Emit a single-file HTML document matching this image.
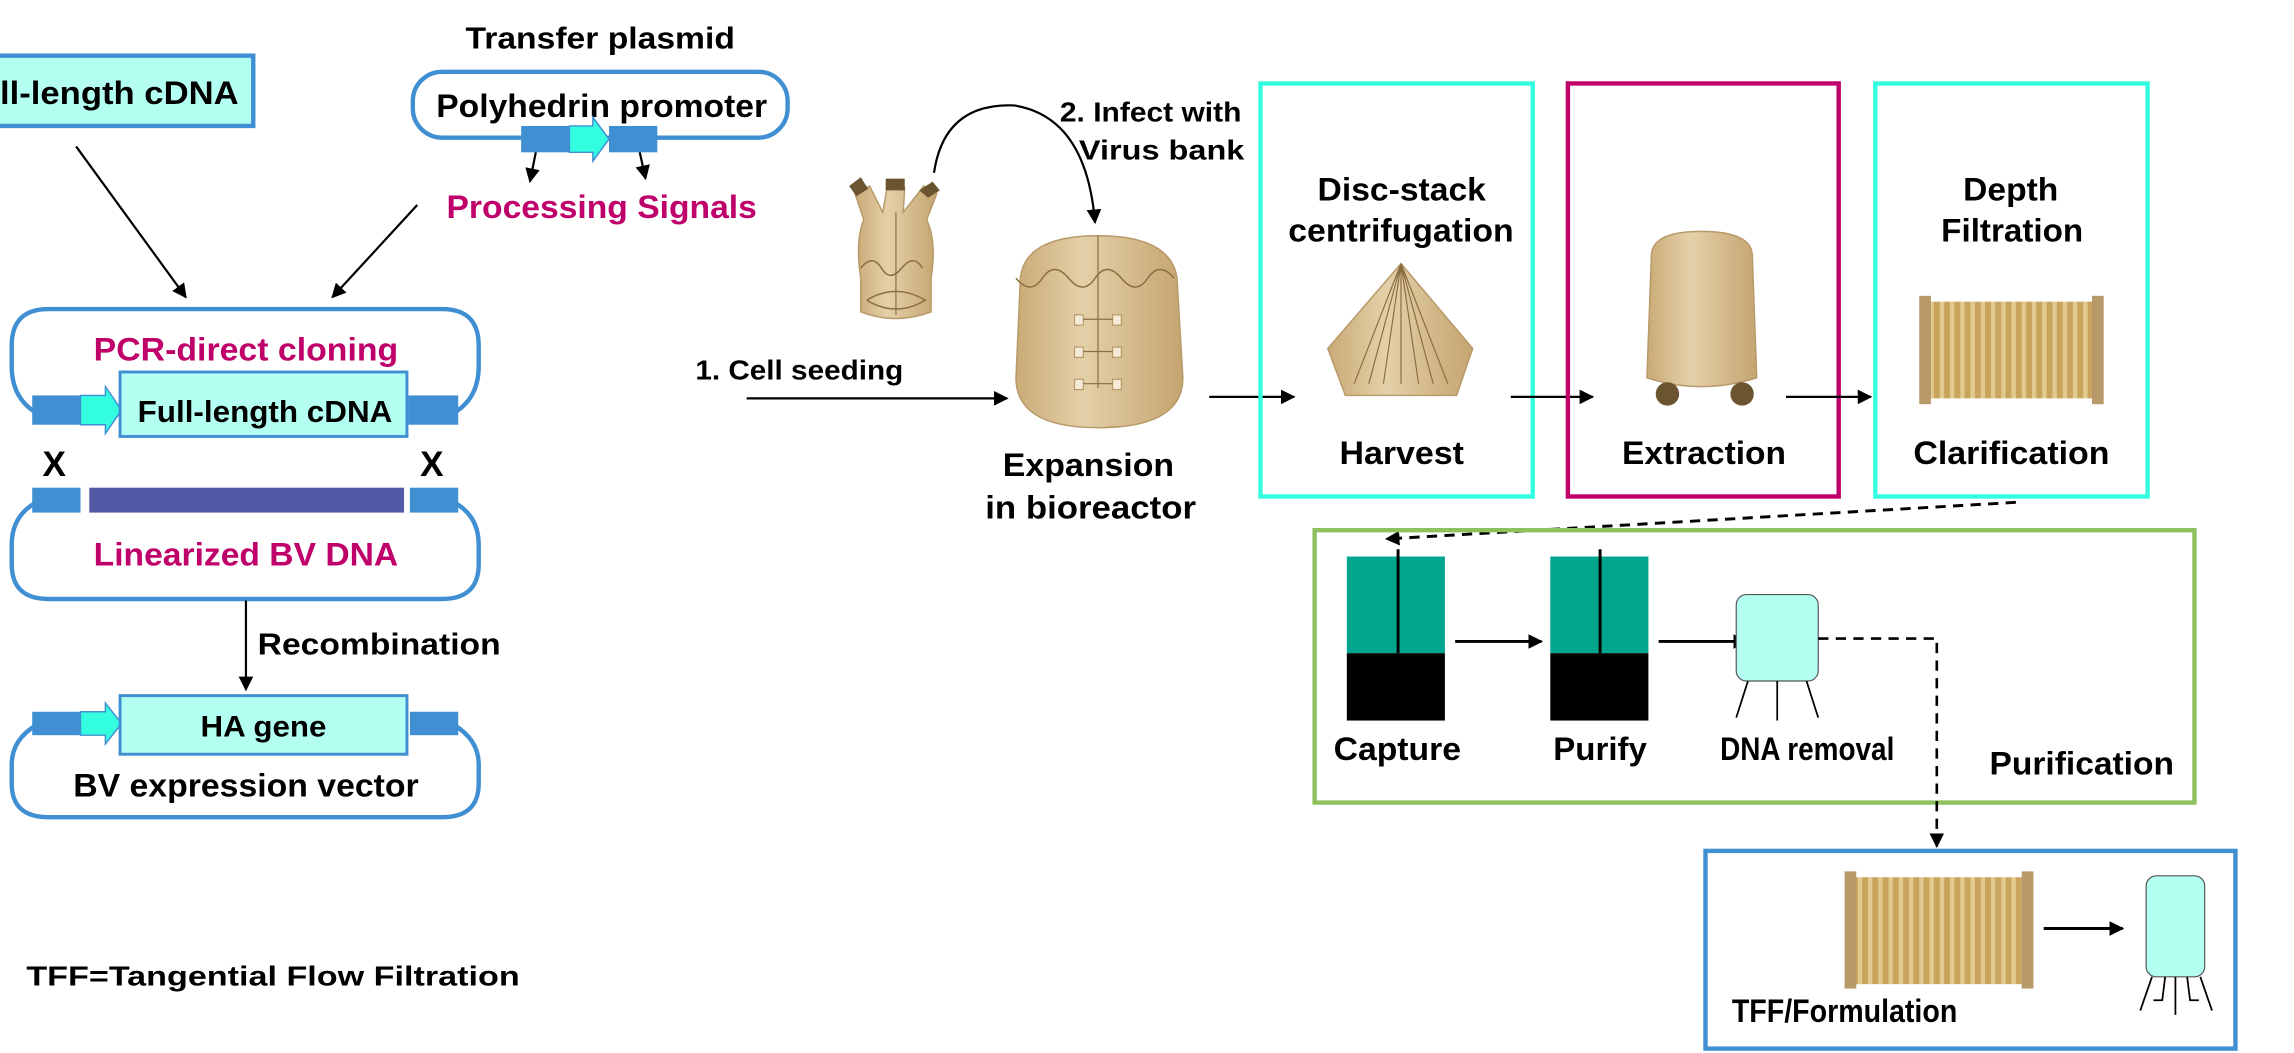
<!DOCTYPE html>
<html><head><meta charset="utf-8"><style>
html,body{margin:0;padding:0;background:#fff;overflow:hidden}
svg{display:block}
text{font-family:"Liberation Sans Narrow","Liberation Sans",sans-serif;font-weight:bold;fill:#000}
.m{fill:#c0006a}
</style></head><body>
<svg width="2294" height="1053" viewBox="0 0 1567 719" preserveAspectRatio="none" xmlns="http://www.w3.org/2000/svg">
<defs>
<marker id="ah" markerWidth="10" markerHeight="10" refX="9" refY="5" orient="auto" markerUnits="userSpaceOnUse"><path d="M0,0 L10,5 L0,10 z" fill="#000"/></marker>
<linearGradient id="tan" x1="0" x2="1"><stop offset="0" stop-color="#c9ab76"/><stop offset="0.4" stop-color="#e4d0a8"/><stop offset="1" stop-color="#c4a570"/></linearGradient>
<pattern id="ribs" width="7" height="10" patternUnits="userSpaceOnUse"><rect width="7" height="10" fill="#c9a45c"/><rect x="2" width="3" height="10" fill="#e2c98f"/></pattern>
</defs>
<rect width="1567" height="719" fill="#fff"/>

<!-- Left panel -->
<rect x="-5" y="38" width="178" height="48" fill="#b3fff2" stroke="#3f8fd2" stroke-width="3"/>
<text x="0" y="71" font-size="22" textLength="163" lengthAdjust="spacingAndGlyphs">ll-length cDNA</text>
<text x="318" y="33" font-size="21" textLength="184" lengthAdjust="spacingAndGlyphs">Transfer plasmid</text>
<rect x="282" y="49" width="256" height="45" rx="20" fill="#fff" stroke="#3f8fd2" stroke-width="3"/>
<text x="298" y="80" font-size="22" textLength="226" lengthAdjust="spacingAndGlyphs">Polyhedrin promoter</text>
<rect x="356" y="86" width="33" height="18" fill="#3f8fd2"/>
<path d="M389,86 L405,86 L405,80 L416,95 L405,110 L405,104 L389,104 z" fill="#33ffe0" stroke="#3f8fd2" stroke-width="1"/>
<rect x="416" y="86" width="33" height="18" fill="#3f8fd2"/>
<line x1="366" y1="104" x2="362" y2="124" stroke="#000" stroke-width="1.5" marker-end="url(#ah)"/>
<line x1="437" y1="104" x2="441" y2="122" stroke="#000" stroke-width="1.5" marker-end="url(#ah)"/>
<text class="m" x="305" y="149" font-size="22" textLength="212" lengthAdjust="spacingAndGlyphs">Processing Signals</text>
<line x1="52" y1="100" x2="127" y2="203" stroke="#000" stroke-width="1.5" marker-end="url(#ah)"/>
<line x1="285" y1="140" x2="227" y2="203" stroke="#000" stroke-width="1.5" marker-end="url(#ah)"/>

<path d="M25,282 Q8,272 8,250 L8,236 Q8,211 33,211 L302,211 Q327,211 327,236 L327,250 Q327,272 310,282" fill="none" stroke="#3f8fd2" stroke-width="3"/>
<text class="m" x="64" y="246" font-size="22" textLength="208" lengthAdjust="spacingAndGlyphs">PCR-direct cloning</text>
<rect x="22" y="270" width="33" height="20" fill="#3f8fd2"/>
<path d="M55,270 L72,270 L72,264 L83,280 L72,296 L72,290 L55,290 z" fill="#33ffe0" stroke="#3f8fd2" stroke-width="1"/>
<rect x="82" y="254" width="196" height="44" fill="#b3fff2" stroke="#3f8fd2" stroke-width="2"/>
<rect x="279" y="270" width="34" height="20" fill="#3f8fd2"/>
<text x="94" y="288" font-size="21" textLength="174" lengthAdjust="spacingAndGlyphs">Full-length cDNA</text>
<text x="29" y="325" font-size="24">X</text>
<text x="287" y="325" font-size="24">X</text>

<path d="M25,343 Q8,352 8,372 L8,385 Q8,409 33,409 L302,409 Q327,409 327,385 L327,372 Q327,352 310,343" fill="none" stroke="#3f8fd2" stroke-width="3"/>
<rect x="22" y="333" width="33" height="17" fill="#3f8fd2"/>
<rect x="61" y="333" width="215" height="17" fill="#5459a5"/>
<rect x="280" y="333" width="33" height="17" fill="#3f8fd2"/>
<text class="m" x="64" y="386" font-size="22" textLength="208" lengthAdjust="spacingAndGlyphs">Linearized BV DNA</text>
<line x1="168" y1="410" x2="168" y2="471" stroke="#000" stroke-width="1.5" marker-end="url(#ah)"/>
<text x="176" y="447" font-size="21" textLength="166" lengthAdjust="spacingAndGlyphs">Recombination</text>

<path d="M25,495 Q8,505 8,522 L8,535 Q8,558 33,558 L302,558 Q327,558 327,535 L327,522 Q327,505 310,495" fill="none" stroke="#3f8fd2" stroke-width="3"/>
<rect x="22" y="486" width="33" height="16" fill="#3f8fd2"/>
<path d="M55,486 L72,486 L72,480 L83,494 L72,508 L72,502 L55,502 z" fill="#33ffe0" stroke="#3f8fd2" stroke-width="1"/>
<rect x="82" y="475" width="196" height="40" fill="#b3fff2" stroke="#3f8fd2" stroke-width="2"/>
<rect x="280" y="486" width="33" height="16" fill="#3f8fd2"/>
<text x="137" y="503" font-size="20" textLength="86" lengthAdjust="spacingAndGlyphs">HA gene</text>
<text x="50" y="544" font-size="22" textLength="236" lengthAdjust="spacingAndGlyphs">BV expression vector</text>
<text x="18" y="673" font-size="19" textLength="337" lengthAdjust="spacingAndGlyphs">TFF=Tangential Flow Filtration</text>

<!-- Upstream -->
<path d="M588,190 Q584,165 590,150 L584,132 L594,127 L603,145 L606,128 L618,128 L617,145 L631,127 L640,132 L633,150 Q640,165 636,190 L636,213 Q612,222 588,213 z" fill="url(#tan)" stroke="#b8996a"/>
<rect x="605" y="122" width="13" height="8" fill="#6b5530"/>
<path d="M580,127 l8,-6 5,8 -8,5z M628,130 l9,-6 5,6 -8,5z" fill="#6b5530"/>
<path d="M588,183 q8,-10 14,0 t14,0 t14,0" fill="none" stroke="#8a6d40"/>
<line x1="612" y1="145" x2="612" y2="215" stroke="#8a6d40" stroke-width="0.8"/>
<path d="M592,205 q20,-12 40,0 q-20,12 -40,0" fill="none" stroke="#8a6d40"/>
<path d="M638,118 Q645,70 693,72 Q742,80 748,152" fill="none" stroke="#000" stroke-width="1.5" marker-end="url(#ah)"/>
<text x="724" y="83" font-size="19" textLength="124" lengthAdjust="spacingAndGlyphs">2. Infect with</text>
<text x="737" y="109" font-size="19" textLength="113" lengthAdjust="spacingAndGlyphs">Virus bank</text>
<path d="M697,190 Q700,161 750,161 Q800,161 804,190 L808,258 Q808,292 750,292 Q694,292 694,258 z" fill="url(#tan)" stroke="#b8996a"/>
<path d="M694,190 q10,12 18,0 t18,0 t18,0 t18,0 t18,0 t18,0" fill="none" stroke="#8a6d40"/>
<line x1="750" y1="161" x2="750" y2="265" stroke="#8a6d40" stroke-width="0.8"/>
<g fill="#f4ecd8" stroke="#b8996a" stroke-width="0.8"><rect x="734" y="215" width="6" height="7"/><rect x="760" y="215" width="6" height="7"/><rect x="734" y="237" width="6" height="7"/><rect x="760" y="237" width="6" height="7"/><rect x="734" y="259" width="6" height="7"/><rect x="760" y="259" width="6" height="7"/></g>
<g stroke="#8a6d40" stroke-width="0.8"><line x1="740" y1="218" x2="760" y2="218"/><line x1="740" y1="240" x2="760" y2="240"/><line x1="740" y1="262" x2="760" y2="262"/></g>
<text x="475" y="259" font-size="19" textLength="142" lengthAdjust="spacingAndGlyphs">1. Cell seeding</text>
<line x1="510" y1="272" x2="688" y2="272" stroke="#000" stroke-width="1.5" marker-end="url(#ah)"/>
<text x="685" y="325" font-size="22" textLength="117" lengthAdjust="spacingAndGlyphs">Expansion</text>
<text x="673" y="354" font-size="22" textLength="144" lengthAdjust="spacingAndGlyphs">in bioreactor</text>
<line x1="826" y1="271" x2="884" y2="271" stroke="#000" stroke-width="1.5" marker-end="url(#ah)"/>

<rect x="861" y="57" width="186" height="282" fill="none" stroke="#33ffe0" stroke-width="3"/>
<text x="900" y="137" font-size="22" textLength="115" lengthAdjust="spacingAndGlyphs">Disc-stack</text>
<text x="880" y="165" font-size="22" textLength="154" lengthAdjust="spacingAndGlyphs">centrifugation</text>
<path d="M957,180 L1006,238 L995,270 L919,270 L907,238 z" fill="url(#tan)" stroke="#b8996a"/>
<g stroke="#8a6d40" stroke-width="0.8" fill="none"><path d="M957,180 L925,262 M957,180 L935,262 M957,180 L945,262 M957,180 L969,262 M957,180 L979,262 M957,180 L989,262 M957,180 L957,262"/></g>
<text x="915" y="317" font-size="22" textLength="85" lengthAdjust="spacingAndGlyphs">Harvest</text>
<line x1="1032" y1="271" x2="1088" y2="271" stroke="#000" stroke-width="1.5" marker-end="url(#ah)"/>

<rect x="1071" y="57" width="185" height="282" fill="none" stroke="#c0006a" stroke-width="3"/>
<path d="M1128,175 Q1128,158 1162,158 Q1197,158 1197,175 L1200,258 Q1162,270 1125,258 z" fill="url(#tan)" stroke="#b8996a"/>
<circle cx="1139" cy="269" r="8" fill="#6b5530"/><circle cx="1190" cy="269" r="8" fill="#6b5530"/>
<text x="1108" y="317" font-size="22" textLength="112" lengthAdjust="spacingAndGlyphs">Extraction</text>
<line x1="1220" y1="271" x2="1278" y2="271" stroke="#000" stroke-width="1.5" marker-end="url(#ah)"/>

<rect x="1281" y="57" width="186" height="282" fill="none" stroke="#33ffe0" stroke-width="3"/>
<text x="1341" y="137" font-size="22" textLength="65" lengthAdjust="spacingAndGlyphs">Depth</text>
<text x="1326" y="165" font-size="22" textLength="97" lengthAdjust="spacingAndGlyphs">Filtration</text>
<rect x="1318" y="206" width="112" height="66" fill="url(#ribs)"/>
<rect x="1311" y="202" width="8" height="74" fill="#b8996a"/><rect x="1429" y="202" width="8" height="74" fill="#b8996a"/>
<text x="1307" y="317" font-size="22" textLength="134" lengthAdjust="spacingAndGlyphs">Clarification</text>

<line x1="1377" y1="343" x2="947" y2="368" stroke="#000" stroke-width="2" stroke-dasharray="7,5" marker-end="url(#ah)"/>

<!-- Purification -->
<rect x="898" y="362" width="601" height="186" fill="none" stroke="#8fc060" stroke-width="3"/>
<rect x="920" y="380" width="67" height="66" fill="#00a58e"/><rect x="920" y="446" width="67" height="46" fill="#000"/>
<line x1="955" y1="375" x2="955" y2="446" stroke="#000" stroke-width="2"/>
<line x1="994" y1="438" x2="1053" y2="438" stroke="#000" stroke-width="2" marker-end="url(#ah)"/>
<rect x="1059" y="380" width="67" height="66" fill="#00a58e"/><rect x="1059" y="446" width="67" height="46" fill="#000"/>
<line x1="1093" y1="375" x2="1093" y2="446" stroke="#000" stroke-width="2"/>
<line x1="1133" y1="438" x2="1193" y2="438" stroke="#000" stroke-width="2" marker-end="url(#ah)"/>
<rect x="1186" y="406" width="56" height="59" rx="7" fill="#b3fff2" stroke="#555" stroke-width="0.8"/>
<g stroke="#000" stroke-width="1.2"><line x1="1194" y1="465" x2="1186" y2="490"/><line x1="1214" y1="465" x2="1214" y2="492"/><line x1="1234" y1="465" x2="1242" y2="490"/></g>
<path d="M1242,436 L1323,436 L1323,578" fill="none" stroke="#000" stroke-width="1.8" stroke-dasharray="7,5" marker-end="url(#ah)"/>
<text x="911" y="519" font-size="22" textLength="87" lengthAdjust="spacingAndGlyphs">Capture</text>
<text x="1061" y="519" font-size="22" textLength="64" lengthAdjust="spacingAndGlyphs">Purify</text>
<text x="1175" y="519" font-size="22" textLength="119" lengthAdjust="spacingAndGlyphs">DNA removal</text>
<text x="1359" y="529" font-size="22" textLength="126" lengthAdjust="spacingAndGlyphs">Purification</text>

<!-- TFF -->
<rect x="1165" y="581" width="362" height="135" fill="none" stroke="#3f8fd2" stroke-width="3"/>
<rect x="1267" y="599" width="115" height="73" fill="url(#ribs)"/>
<rect x="1260" y="595" width="8" height="80" fill="#b8996a"/><rect x="1381" y="595" width="8" height="80" fill="#b8996a"/>
<line x1="1396" y1="634" x2="1450" y2="634" stroke="#000" stroke-width="2" marker-end="url(#ah)"/>
<rect x="1466" y="598" width="40" height="69" rx="7" fill="#b3fff2" stroke="#555" stroke-width="0.8"/>
<g stroke="#000" stroke-width="1.2" fill="none"><line x1="1470" y1="667" x2="1462" y2="690"/><path d="M1479,667 L1477,683 L1471,683"/><line x1="1486" y1="667" x2="1486" y2="693"/><path d="M1494,667 L1496,683 L1502,683"/><line x1="1503" y1="667" x2="1511" y2="690"/></g>
<text x="1183" y="698" font-size="22" textLength="154" lengthAdjust="spacingAndGlyphs">TFF/Formulation</text>
</svg>
</body></html>
